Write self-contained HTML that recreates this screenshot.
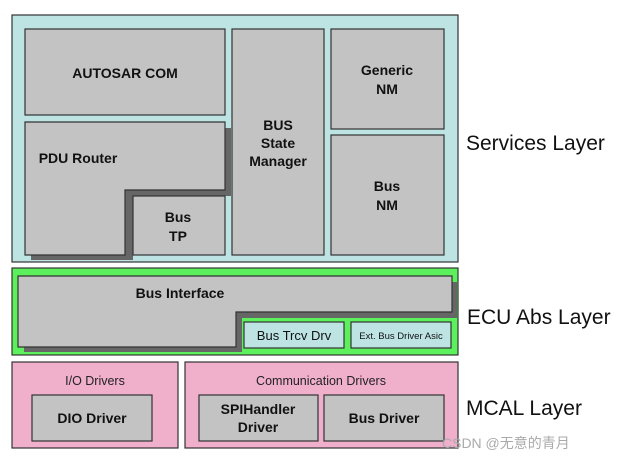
<!DOCTYPE html>
<html><head><meta charset="utf-8"><style>
html,body{margin:0;padding:0;background:#fff;}
svg{display:block;}
text{font-family:"Liberation Sans",Arial,sans-serif;}
.b{font-weight:bold;font-size:14px;fill:#111;text-anchor:middle;}
</style></head><body>
<svg width="625" height="462" viewBox="0 0 625 462" xmlns="http://www.w3.org/2000/svg">
<g stroke="#333" stroke-width="1.2">
<!-- Services layer -->
<rect x="12" y="15" width="446" height="247" fill="#bde3e3"/>
<rect x="25" y="29" width="200" height="86" fill="#c3c3c3"/>
<!-- PDU router shadow -->
<polygon points="31,255 127,255 127,196 231,196 231,128 225,128 225,190 125,190 125,255" fill="#666" stroke="none"/>
<rect x="31" y="255" width="98" height="5" fill="#666" stroke="none"/>
<rect x="125" y="190" width="8" height="70" fill="#666" stroke="none"/>
<rect x="125" y="190" width="106" height="6" fill="#666" stroke="none"/>
<rect x="225" y="128" width="6" height="68" fill="#666" stroke="none"/>
<polygon points="25,122 225,122 225,190 125,190 125,255 25,255" fill="#c3c3c3"/>
<rect x="133" y="196" width="92" height="59" fill="#c3c3c3"/>
<rect x="232" y="29" width="92" height="226" fill="#c3c3c3"/>
<rect x="331" y="29" width="113" height="100" fill="#c3c3c3"/>
<rect x="331" y="135" width="113" height="120" fill="#c3c3c3"/>
<!-- ECU layer -->
<rect x="12" y="268" width="446" height="87" fill="#5cf05c"/>
<rect x="452" y="282" width="5" height="36" fill="#666" stroke="none"/>
<rect x="236" y="312" width="221" height="6" fill="#666" stroke="none"/>
<rect x="236" y="312" width="6" height="40" fill="#666" stroke="none"/>
<rect x="24" y="347" width="218" height="5" fill="#666" stroke="none"/>
<polygon points="18,276 452,276 452,312 236,312 236,347 18,347" fill="#c3c3c3"/>
<rect x="244" y="322" width="100" height="26" fill="#bde3e3"/>
<rect x="351" y="322" width="100" height="26" fill="#bde3e3"/>
<!-- MCAL -->
<rect x="12" y="362" width="166" height="86" fill="#f0b0cc"/>
<rect x="185" y="362" width="273" height="86" fill="#f0b0cc"/>
<rect x="32" y="395" width="120" height="46" fill="#c3c3c3"/>
<rect x="199" y="395" width="119" height="46" fill="#c3c3c3"/>
<rect x="324" y="395" width="120" height="46" fill="#c3c3c3"/>
</g>
<text class="b" x="125" y="78">AUTOSAR COM</text>
<text class="b" x="78" y="163">PDU Router</text>
<text class="b" x="178" y="222">Bus</text>
<text class="b" x="178" y="241">TP</text>
<text class="b" x="278" y="130">BUS</text>
<text class="b" x="278" y="148">State</text>
<text class="b" x="278" y="166">Manager</text>
<text class="b" x="387" y="75">Generic</text>
<text class="b" x="387" y="94">NM</text>
<text class="b" x="387" y="191">Bus</text>
<text class="b" x="387" y="210">NM</text>
<text class="b" x="180" y="298">Bus Interface</text>
<text x="294" y="340" font-size="13" text-anchor="middle" fill="#111">Bus Trcv Drv</text>
<text x="401" y="339" font-size="9.5" text-anchor="middle" fill="#111">Ext. Bus Driver Asic</text>
<text x="95" y="385" font-size="12.5" text-anchor="middle" fill="#222">I/O Drivers</text>
<text x="321" y="385" font-size="12.5" text-anchor="middle" fill="#222">Communication Drivers</text>
<text class="b" x="92" y="423">DIO Driver</text>
<text class="b" x="258" y="414">SPIHandler</text>
<text class="b" x="258" y="432">Driver</text>
<text class="b" x="384" y="423">Bus Driver</text>
<text x="466" y="150" font-size="21" fill="#111">Services Layer</text>
<text x="467" y="324" font-size="21" fill="#111">ECU Abs Layer</text>
<text x="466" y="415" font-size="21" fill="#111">MCAL Layer</text>
<text x="442" y="448" font-size="14" fill="#aaa" style='font-family:"Liberation Sans","Noto Sans CJK SC",sans-serif'>CSDN @无意的青月</text>
</svg>
</body></html>
